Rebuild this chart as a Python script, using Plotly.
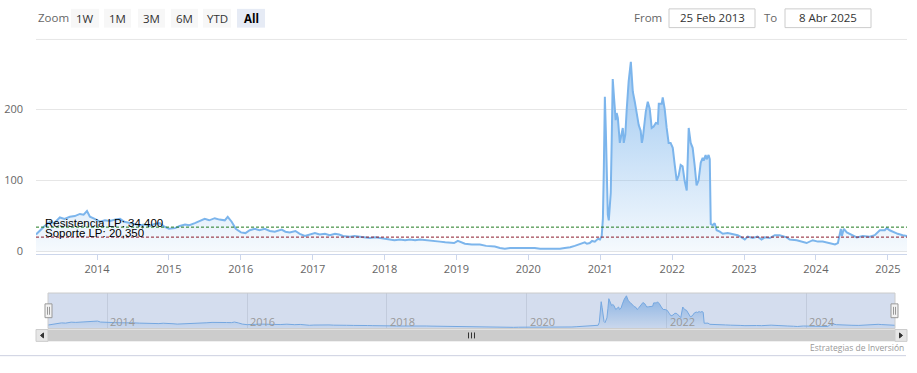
import plotly.graph_objects as go

W, H = 917, 373

# ---------------- data ----------------
dates = [
    "2013-02-25", "2013-03-17", "2013-04-10", "2013-05-07", "2013-05-28", "2013-06-26", "2013-07-20",
    "2013-08-16", "2013-09-10", "2013-10-06", "2013-10-25", "2013-11-11", "2013-11-26", "2013-12-20",
    "2014-01-16", "2014-02-10", "2014-03-08", "2014-04-05", "2014-04-28", "2014-05-20", "2014-06-17",
    "2014-07-10", "2014-08-07", "2014-09-01", "2014-09-27", "2014-10-20", "2014-11-16", "2014-12-10",
    "2015-01-01", "2015-02-01", "2015-02-25", "2015-03-24", "2015-04-15", "2015-05-13", "2015-06-05",
    "2015-07-02", "2015-07-25", "2015-08-22", "2015-09-15", "2015-10-12", "2015-10-27", "2015-11-16",
    "2015-12-07", "2016-01-02", "2016-01-25", "2016-02-16", "2016-03-12", "2016-04-05", "2016-05-02",
    "2016-05-28", "2016-06-22", "2016-07-27", "2016-08-15", "2016-09-06", "2016-10-05", "2016-10-27",
    "2016-11-22", "2016-12-15", "2017-01-12", "2017-02-05", "2017-03-04", "2017-03-28", "2017-04-24",
    "2017-05-15", "2017-06-04", "2017-07-09", "2017-08-01", "2017-08-29", "2017-09-20", "2017-10-19",
    "2017-11-15", "2017-12-08", "2018-01-05", "2018-01-28", "2018-02-20", "2018-03-20", "2018-04-15",
    "2018-05-10", "2018-06-05", "2018-06-30", "2018-07-25", "2018-08-19", "2018-09-15", "2018-10-09",
    "2018-11-05", "2018-11-28", "2018-12-20", "2019-01-08", "2019-01-25", "2019-02-13", "2019-03-20",
    "2019-04-30", "2019-06-01", "2019-07-15", "2019-08-10", "2019-09-04", "2019-10-01", "2019-10-24",
    "2019-11-20", "2019-12-14", "2020-01-10", "2020-02-03", "2020-03-01", "2020-03-25", "2020-04-20",
    "2020-05-15", "2020-06-10", "2020-07-04", "2020-08-01", "2020-08-24", "2020-09-15", "2020-10-14",
    "2020-10-25", "2020-11-08", "2020-11-20", "2020-12-04", "2020-12-20", "2020-12-30", "2021-01-08",
    "2021-01-14", "2021-01-19", "2021-01-24", "2021-01-29", "2021-02-03", "2021-02-08", "2021-02-13",
    "2021-02-18", "2021-02-23", "2021-02-28", "2021-03-05", "2021-03-12", "2021-03-20", "2021-03-25",
    "2021-03-31", "2021-04-10", "2021-04-18", "2021-04-25", "2021-04-30", "2021-05-08", "2021-05-15",
    "2021-05-25", "2021-06-05", "2021-06-10", "2021-06-15", "2021-06-25", "2021-07-05", "2021-07-15",
    "2021-07-25", "2021-07-31", "2021-08-05", "2021-08-20", "2021-08-30", "2021-09-09", "2021-09-19",
    "2021-09-29", "2021-10-10", "2021-10-20", "2021-10-25", "2021-11-09", "2021-11-14", "2021-11-24",
    "2021-12-04", "2021-12-14", "2021-12-24", "2022-01-04", "2022-01-14", "2022-01-24", "2022-02-03",
    "2022-02-13", "2022-02-23", "2022-03-05", "2022-03-16", "2022-03-26", "2022-04-05", "2022-04-15",
    "2022-04-25", "2022-05-05", "2022-05-15", "2022-05-26", "2022-06-05", "2022-06-10", "2022-06-20",
    "2022-06-25", "2022-07-05", "2022-07-11", "2022-07-16", "2022-07-26", "2022-08-05", "2022-08-15",
    "2022-08-31", "2022-09-15", "2022-10-10", "2022-11-04", "2022-11-30", "2022-12-20", "2023-01-05",
    "2023-01-20", "2023-02-14", "2023-03-11", "2023-03-31", "2023-04-16", "2023-05-12", "2023-06-06",
    "2023-07-01", "2023-08-06", "2023-08-21", "2023-09-26", "2023-10-26", "2023-11-15", "2023-12-16",
    "2024-01-11", "2024-02-05", "2024-03-12", "2024-04-07", "2024-04-22", "2024-05-07", "2024-05-12",
    "2024-05-17", "2024-05-22", "2024-06-06", "2024-06-21", "2024-07-06", "2024-07-27", "2024-08-26",
    "2024-10-01", "2024-10-26", "2024-11-21", "2024-12-16", "2024-12-26", "2025-01-10", "2025-01-26",
    "2025-02-20", "2025-03-17", "2025-04-08",
]
values = [
    24, 30, 36, 42, 40, 48, 46,
    49, 50, 53, 52, 57, 49, 46,
    42, 44, 43, 45, 46, 42, 40,
    38, 37, 38, 36, 39, 40, 35,
    32, 33, 36, 38, 37, 40, 43,
    46, 44, 47, 45, 44, 49, 42,
    32, 27, 26, 30, 32, 30, 32,
    29, 28, 31, 28, 27, 29, 25,
    22, 24, 26, 24, 25, 23, 25,
    24, 22, 21, 22, 21, 20, 19,
    20, 19, 18, 17, 16, 17, 16,
    17, 16, 17, 16, 15, 14, 14,
    13, 13, 12, 15, 13, 11, 10,
    10, 8, 7, 5, 4, 5, 5,
    6, 6, 6, 5, 4, 4, 3,
    4, 4, 5, 6, 8, 10, 13,
    11, 12, 15, 14, 18, 17, 22,
    46, 120, 218, 170, 79, 52, 44,
    60, 83, 160, 243, 215, 185, 195,
    188, 153, 165, 174, 153, 165, 200,
    240, 267, 250, 225, 211, 192, 178,
    170, 153, 160, 197, 211, 201, 174,
    176, 181, 180, 208, 208, 217, 201,
    174, 153, 153, 146, 122, 100, 107,
    122, 120, 100, 86, 174, 153, 146,
    122, 93, 100, 125, 132, 128, 136,
    130, 136, 130, 39, 37, 40, 30,
    28, 25, 26, 25, 23, 20, 17,
    21, 19, 21, 17, 20, 19, 23,
    23, 20, 17, 16, 14, 12, 16,
    14, 14, 12, 10, 12, 32, 22,
    27, 32, 27, 25, 23, 20, 22,
    21, 23, 30, 30, 33, 30, 28,
    25, 23, 22,
]

resistance_value = 34.4
support_value = 20.35
resistance_label = "Resistencia LP: 34,400"
support_label = "Soporte LP: 20,350"

main_tick_dates = ["2014-01-01", "2015-01-01", "2016-01-01", "2017-01-01", "2018-01-01", "2019-01-01",
                   "2020-01-01", "2021-01-01", "2022-01-01", "2023-01-01", "2024-01-01", "2025-01-01"]
main_tick_labels = ["2014", "2015", "2016", "2017", "2018", "2019",
                    "2020", "2021", "2022", "2023", "2024", "2025"]
nav_tick_dates = ["2014-01-01", "2016-01-01", "2018-01-01", "2020-01-01", "2022-01-01", "2024-01-01"]
nav_tick_labels = ["2014", "2016", "2018", "2020", "2022", "2024"]
y_tick_values = [0, 100, 200]
y_tick_labels = ["0", "100", "200"]

zoom_buttons = ["1W", "1M", "3M", "6M", "YTD", "All"]
selected_button = "All"
from_text = "25 Feb 2013"
to_text = "8 Abr 2025"
credits_text = "Estrategias de Inversión"

# ---------------- helpers (pixel -> paper) ----------------
def px(x):
    return x / W


def py(y):
    return 1 - y / H


FONT = "Open Sans, DejaVu Sans, sans-serif"
LINE_COLOR = "#7cb5ec"

fig = go.Figure()

fig.add_trace(go.Scatter(
    x=dates, y=values, mode="lines",
    line=dict(color=LINE_COLOR, width=2),
    fill="tozeroy",
    fillgradient=dict(type="vertical", start=0, stop=270,
                      colorscale=[[0, "rgba(124,181,236,0.06)"], [1, "rgba(124,181,236,0.75)"]]),
    xaxis="x", yaxis="y", hoverinfo="skip", showlegend=False,
))

fig.add_trace(go.Scatter(
    x=dates, y=values, mode="lines",
    line=dict(color=LINE_COLOR, width=1),
    fill="tozeroy",
    fillgradient=dict(type="vertical", start=0, stop=270,
                      colorscale=[[0, "rgba(124,181,236,0.1)"], [1, "rgba(124,181,236,0.8)"]]),
    xaxis="x2", yaxis="y2", hoverinfo="skip", showlegend=False,
))

shapes = []
annotations = []

# support / resistance lines
shapes.append(dict(type="line", xref="x domain", yref="y", x0=0, x1=1,
                   y0=resistance_value, y1=resistance_value,
                   line=dict(color="#1f7a1f", width=1, dash="3px,2px"), layer="above"))
shapes.append(dict(type="line", xref="x domain", yref="y", x0=0, x1=1,
                   y0=support_value, y1=support_value,
                   line=dict(color="#8b1a2b", width=1, dash="3px,2px"), layer="above"))
annotations.append(dict(xref="paper", yref="y", x=px(44), y=resistance_value, text=resistance_label,
                        xanchor="left", yanchor="bottom", showarrow=False, yshift=-3, borderpad=0,
                        font=dict(family="Liberation Sans, Arial", size=11.5, color="#000")))
annotations.append(dict(xref="paper", yref="y", x=px(44), y=support_value, text=support_label,
                        xanchor="left", yanchor="bottom", showarrow=False, yshift=-3, borderpad=0,
                        font=dict(family="Liberation Sans, Arial", size=11.5, color="#000")))

# top separator line
shapes.append(dict(type="line", xref="paper", yref="paper", x0=px(36), x1=px(907), y0=py(40), y1=py(40),
                   line=dict(color="#e6e6e6", width=1)))

# range selector
annotations.append(dict(xref="paper", yref="paper", x=px(36), y=py(18), text="Zoom", showarrow=False,
                        xanchor="left", yanchor="middle", font=dict(family=FONT, size=11.5, color="#666")))
btn_x = [71, 104, 138, 171, 203, 237]
btn_w = [28, 27, 27, 27, 28, 28]
for label, bx, bw in zip(zoom_buttons, btn_x, btn_w):
    sel = label == selected_button
    shapes.append(dict(type="rect", xref="paper", yref="paper", x0=px(bx), x1=px(bx + bw),
                       y0=py(28), y1=py(9), fillcolor="#e6ebf5" if sel else "#f7f7f7",
                       line=dict(width=0)))
    annotations.append(dict(xref="paper", yref="paper", x=px(bx + bw / 2), y=py(18.5),
                            text=f"<b>{label}</b>" if sel else label, showarrow=False,
                            xanchor="center", yanchor="middle",
                            font=dict(family=FONT, size=11.5, color="#000" if sel else "#333")))

# From / To inputs
annotations.append(dict(xref="paper", yref="paper", x=px(664), y=py(18), text="From", showarrow=False,
                        xanchor="right", yanchor="middle", font=dict(family=FONT, size=11.5, color="#666")))
shapes.append(dict(type="rect", xref="paper", yref="paper", x0=px(669), x1=px(755), y0=py(28), y1=py(9),
                   fillcolor="white", line=dict(color="#cccccc", width=1)))
annotations.append(dict(xref="paper", yref="paper", x=px(712), y=py(18), text=from_text, showarrow=False,
                        xanchor="center", yanchor="middle", font=dict(family=FONT, size=11.5, color="#333")))
annotations.append(dict(xref="paper", yref="paper", x=px(779), y=py(18), text="To", showarrow=False,
                        xanchor="right", yanchor="middle", font=dict(family=FONT, size=11.5, color="#666")))
shapes.append(dict(type="rect", xref="paper", yref="paper", x0=px(785), x1=px(871), y0=py(28), y1=py(9),
                   fillcolor="white", line=dict(color="#cccccc", width=1)))
annotations.append(dict(xref="paper", yref="paper", x=px(828), y=py(18), text=to_text, showarrow=False,
                        xanchor="center", yanchor="middle", font=dict(family=FONT, size=11.5, color="#333")))

# navigator labels (placed on the navigator's own date axis)
for d, lab in zip(nav_tick_dates, nav_tick_labels):
    annotations.append(dict(xref="x2", yref="paper", x=d, y=py(326), text=lab, showarrow=False,
                            xanchor="left", yanchor="middle", xshift=1,
                            font=dict(family=FONT, size=11, color="#999")))

# navigator mask + outline
shapes.append(dict(type="rect", xref="paper", yref="paper", x0=px(48), x1=px(895), y0=py(333), y1=py(297),
                   fillcolor="rgba(102,133,194,0.28)", line=dict(width=0), layer="above"))
shapes.append(dict(type="rect", xref="paper", yref="paper", x0=px(48), x1=px(895), y0=py(333), y1=py(297),
                   fillcolor="rgba(0,0,0,0)", line=dict(color="#cccccc", width=1), layer="above"))
# handles
for hx in (48.5, 894.5):
    shapes.append(dict(type="rect", xref="paper", yref="paper", x0=px(hx - 3.5), x1=px(hx + 3.5),
                       y0=py(322), y1=py(308), fillcolor="#f2f2f2", line=dict(color="#999", width=1),
                       layer="above"))
    for lx in (hx - 1, hx + 1):
        shapes.append(dict(type="line", xref="paper", yref="paper", x0=px(lx), x1=px(lx),
                           y0=py(319), y1=py(311), line=dict(color="#999", width=1), layer="above"))

# scrollbar
shapes.append(dict(type="rect", xref="paper", yref="paper", x0=px(36), x1=px(907), y0=py(346), y1=py(334),
                   fillcolor="#f2f2f2", line=dict(width=0)))
shapes.append(dict(type="rect", xref="paper", yref="paper", x0=px(48), x1=px(895), y0=py(346), y1=py(334),
                   fillcolor="#cccccc", line=dict(width=0)))
for bx0, bx1 in ((36, 48), (895, 907)):
    shapes.append(dict(type="rect", xref="paper", yref="paper", x0=px(bx0), x1=px(bx1), y0=py(346),
                       y1=py(334), fillcolor="#e6e6e6", line=dict(color="#cccccc", width=1)))
shapes.append(dict(type="path", xref="paper", yref="paper",
                   path=f"M {px(43.5)} {py(337.5)} L {px(40.5)} {py(340)} L {px(43.5)} {py(342.5)} Z",
                   fillcolor="#333", line=dict(color="#333", width=1)))
shapes.append(dict(type="path", xref="paper", yref="paper",
                   path=f"M {px(899.5)} {py(337.5)} L {px(902.5)} {py(340)} L {px(899.5)} {py(342.5)} Z",
                   fillcolor="#333", line=dict(color="#333", width=1)))
for gx in (468.5, 471.5, 474.5):
    shapes.append(dict(type="line", xref="paper", yref="paper", x0=px(gx), x1=px(gx), y0=py(343),
                       y1=py(337), line=dict(color="#333", width=1)))

# credits and bottom line
annotations.append(dict(xref="paper", yref="paper", x=px(906), y=py(352), text=credits_text, showarrow=False,
                        xanchor="right", yanchor="middle", font=dict(family=FONT, size=8.5, color="#999")))
shapes.append(dict(type="line", xref="paper", yref="paper", x0=0, x1=px(906), y0=py(360.5), y1=py(360.5),
                   line=dict(color="#ccd0e0", width=1)))

fig.update_layout(
    width=W, height=H, autosize=False,
    margin=dict(l=0, r=0, t=0, b=0),
    paper_bgcolor="white", plot_bgcolor="white",
    showlegend=False, hovermode=False,
    font=dict(family=FONT, size=11, color="#666"),
    xaxis=dict(domain=[px(36), px(907)], anchor="y", type="date",
               range=[dates[0], dates[-1]],
               tickmode="array", tickvals=main_tick_dates, ticktext=main_tick_labels,
               showgrid=False, zeroline=False, showline=True, linecolor="#ccd6eb", linewidth=1,
               ticks="outside", ticklen=5, tickcolor="#ccd6eb",
               tickfont=dict(family=FONT, size=11, color="#666"), fixedrange=True),
    yaxis=dict(domain=[py(257), py(40)], anchor="x", range=[-2.8, 298.6],
               tickmode="array", tickvals=y_tick_values, ticktext=y_tick_labels,
               showgrid=True, gridcolor="#e6e6e6", zeroline=False, showline=False,
               ticks="", ticklabelstandoff=12,
               tickfont=dict(family=FONT, size=11, color="#666"), fixedrange=True),
    xaxis2=dict(domain=[px(48), px(895)], anchor="y2", type="date",
                range=[dates[0], dates[-1]],
                tickmode="array", tickvals=nav_tick_dates, ticktext=nav_tick_labels,
                showticklabels=False,
                showgrid=True, gridcolor="#e6e6e6", zeroline=False, showline=False, ticks="",
                fixedrange=True),
    yaxis2=dict(domain=[py(333), py(297)], anchor="x2", range=[-5, 290], visible=False,
                showgrid=False, fixedrange=True),
    shapes=shapes,
    annotations=annotations,
)

fig.write_html("out.html", config={"displayModeBar": False, "staticPlot": True},
               post_script="document.body.style.margin='0';document.body.style.overflow='hidden';")
